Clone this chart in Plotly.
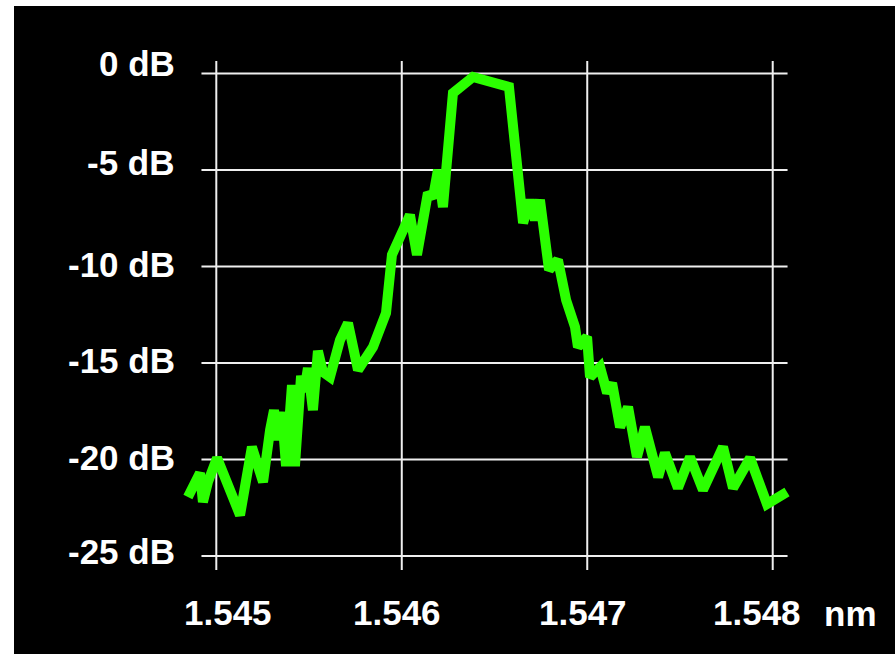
import plotly.graph_objects as go

# ---- data ----
wavelength_nm = [1.544847, 1.544912, 1.544928, 1.544955, 1.545004, 1.545128, 1.545192, 1.545252,
                 1.545290, 1.545311, 1.545333, 1.545354, 1.545376, 1.545408, 1.545424, 1.545457,
                 1.545473, 1.545494, 1.545521, 1.545548, 1.545575, 1.545613, 1.545667, 1.545710,
                 1.545764, 1.545845, 1.545915, 1.545947, 1.546044, 1.546082, 1.546141, 1.546168,
                 1.546195, 1.546222, 1.546276, 1.546384, 1.546578, 1.546654, 1.546691, 1.546718,
                 1.546745, 1.546778, 1.546794, 1.546842, 1.546886, 1.546934, 1.546950, 1.546999,
                 1.547015, 1.547069, 1.547107, 1.547134, 1.547177, 1.547220, 1.547268, 1.547311,
                 1.547382, 1.547419, 1.547489, 1.547554, 1.547624, 1.547732, 1.547786, 1.547878,
                 1.547969, 1.548077]
power_db = [-21.94, -20.70, -22.20, -21.17, -19.92, -22.88, -19.35, -21.17,
            -18.47, -17.44, -18.99, -17.54, -20.34, -16.14, -20.34, -15.67,
            -16.50, -15.26, -17.44, -14.38, -15.47, -15.73, -13.81, -12.93,
            -15.36, -14.17, -12.41, -9.40, -7.33, -9.40, -6.19, -6.45,
            -5.00, -6.92, -1.01, -0.18, -0.70, -7.75, -6.55, -7.59,
            -6.55, -8.89, -10.18, -9.66, -11.74, -13.13, -14.17, -13.65,
            -15.73, -15.21, -16.55, -16.04, -18.32, -17.28, -19.87, -18.32,
            -20.91, -19.66, -21.48, -19.87, -21.58, -19.35, -21.48, -19.92,
            -22.31, -21.68]

x_ticks = [1.545, 1.546, 1.547, 1.548]
x_tick_labels = ["1.545", "1.546", "1.547", "1.548"]
y_ticks = [0, -5, -10, -15, -20, -25]
y_tick_labels = ["0 dB", "-5 dB", "-10 dB", "-15 dB", "-20 dB", "-25 dB"]
x_unit = "nm"

# ---- layout geometry ----
W, H = 895, 654
L, R, T, B = 180, 800, 50, 590          # plot area in pixels
x_range = [1.5448043, 1.5481471]
y_range = [-26.762, 1.2176]

def px_to_paper_x(px):
    return (px - L) / (R - L)

def px_to_paper_y(py):
    return (B - py) / (B - T)

fig = go.Figure()
fig.add_trace(go.Scatter(
    x=wavelength_nm, y=power_db, mode="lines",
    line=dict(color="#2bff00", width=10),
    hoverinfo="skip", showlegend=False,
))

grid_color = "#efefef"
gx0, gx1 = x_ticks[0] - 0.00008, x_ticks[-1] + 0.00008
gy0, gy1 = y_ticks[-1] - 0.72, y_ticks[0] + 0.65
shapes = []
for xv in x_ticks:
    shapes.append(dict(type="line", xref="x", yref="y", x0=xv, x1=xv, y0=gy0, y1=gy1,
                       line=dict(color=grid_color, width=2), layer="below"))
for yv in y_ticks:
    shapes.append(dict(type="line", xref="x", yref="y", x0=gx0, x1=gx1, y0=yv, y1=yv,
                       line=dict(color=grid_color, width=2), layer="below"))
# white strips at left and top edge of the picture
shapes.append(dict(type="rect", xref="paper", yref="paper",
                   x0=px_to_paper_x(-2), x1=px_to_paper_x(14),
                   y0=px_to_paper_y(H + 2), y1=px_to_paper_y(-2),
                   fillcolor="white", line=dict(width=0), layer="above"))
shapes.append(dict(type="rect", xref="paper", yref="paper",
                   x0=px_to_paper_x(-2), x1=px_to_paper_x(W + 2),
                   y0=px_to_paper_y(6), y1=px_to_paper_y(-2),
                   fillcolor="white", line=dict(width=0), layer="above"))

font = dict(family="Liberation Sans, Arial, sans-serif", size=35, color="white", weight="bold")
annotations = []
y_shifts = [10, 8, 2, 3, 1.5, 4]
for yv, lab, sh in zip(y_ticks, y_tick_labels, y_shifts):
    annotations.append(dict(x=px_to_paper_x(177), xref="paper", y=yv, yref="y",
                            text=lab, showarrow=False, xanchor="right", yanchor="middle",
                            yshift=sh, font=font))
x_shifts = [12, -5, -4, -16]
for xv, lab, sh in zip(x_ticks, x_tick_labels, x_shifts):
    annotations.append(dict(x=xv, xref="x", y=px_to_paper_y(612.5), yref="paper",
                            text=lab, showarrow=False, xanchor="center", yanchor="middle",
                            xshift=sh, font=font))
annotations.append(dict(x=px_to_paper_x(822), xref="paper", y=px_to_paper_y(613), yref="paper",
                        text=x_unit, showarrow=False, xanchor="left", yanchor="middle",
                        font=font))

fig.update_layout(
    width=W, height=H,
    margin=dict(l=L, r=W - R, t=T, b=H - B, pad=0),
    paper_bgcolor="black", plot_bgcolor="black",
    xaxis=dict(range=x_range, showgrid=False, zeroline=False, showticklabels=False,
               showline=False, fixedrange=True),
    yaxis=dict(range=y_range, showgrid=False, zeroline=False, showticklabels=False,
               showline=False, fixedrange=True),
    shapes=shapes, annotations=annotations, showlegend=False,
)

fig.write_html(
    "out.html",
    config={"displayModeBar": False},
    post_script="document.body.style.margin='0';document.body.style.overflow='hidden';",
)
